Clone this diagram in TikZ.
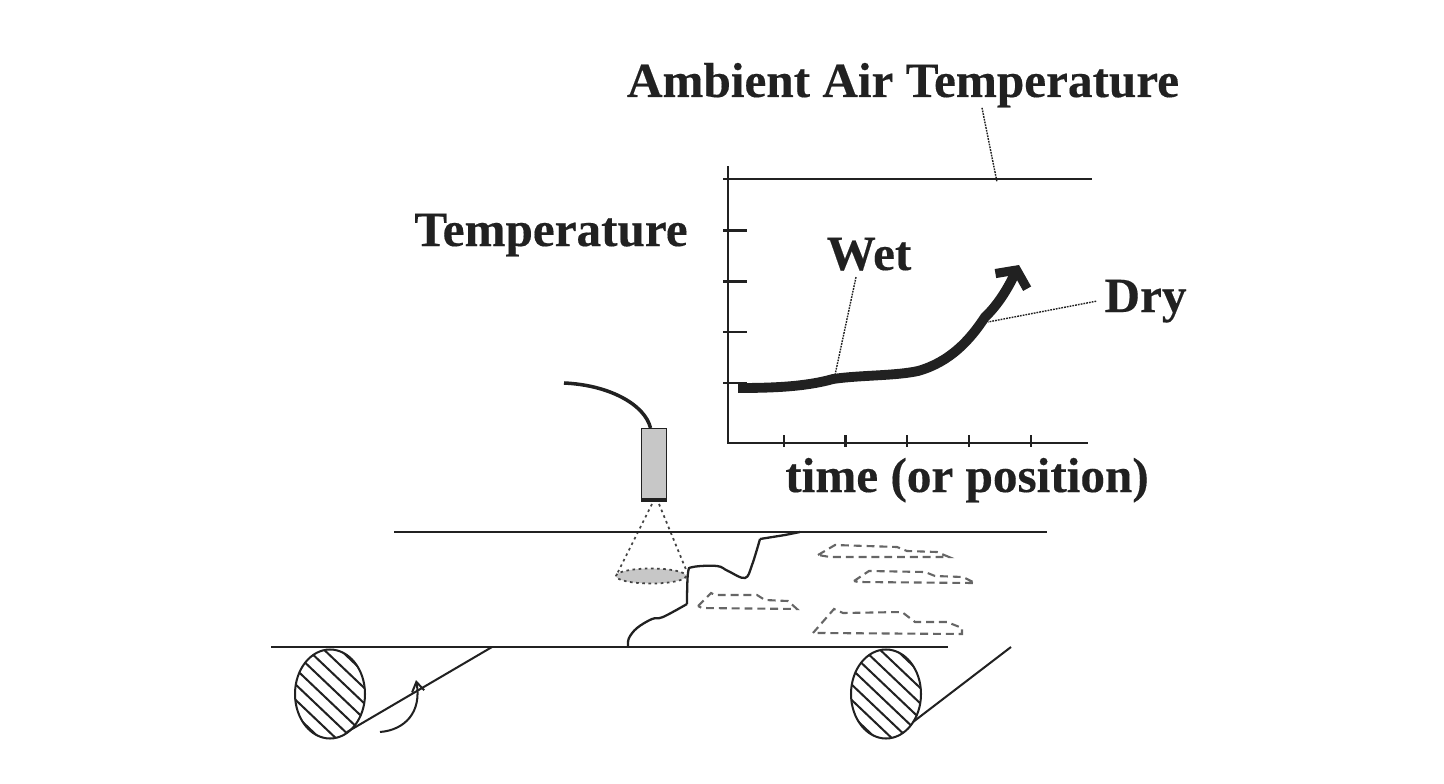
\documentclass[tikz,border=0pt]{standalone}
\usepackage{fontspec}
\setmainfont[BoldFeatures={FakeBold=0.3}]{Liberation Serif}
\usetikzlibrary{arrows.meta}
\definecolor{ink}{gray}{0.13}
\tikzset{
    label text/.style={font=\fontsize{28}{32}\selectfont\bfseries,text=ink,inner sep=0pt,anchor=base},
    leader/.style={ink,line width=0.8pt,dash pattern=on 1pt off 0.6pt},
    belt/.style={ink,line width=1.15pt},
    patch/.style={black!60,line width=1.2pt,dash pattern=on 4.5pt off 2.8pt},
    beam/.style={ink!85,line width=1pt,dash pattern=on 1.5pt off 2pt},
}
\begin{document}
\begin{tikzpicture}[x=0.02cm,y=-0.02cm]
    \useasboundingbox (0,0) rectangle (1444,784);
    % axes
    \draw[belt] (728,166) -- (728,443) -- (1088,443);
    \foreach \y in {230.5,281.5,332,383} {
        \draw[belt] (723,\y) -- (747,\y);
    }
    \foreach \x in {784,845.5,907,969,1031} {
        \draw[belt] (\x,435) -- (\x,447);
    }
    \draw[belt] (723,179) -- (1092,179);
    % temperature curve
    \draw[ink,line width=5.6pt,-{Straight Barb[length=7pt,width=20pt,line width=5.2pt]}]
        (738,388) .. controls (770,388) and (805,387) .. (833,379)
        .. controls (860,375) and (895,376) .. (918,371)
        .. controls (950,362) and (970,340) .. (985,317)
        .. controls (998,305) and (1008,288) .. (1019,265);
    % labels
    \node[label text] (ambient) at (903,97) {Ambient Air Temperature};
    \node[label text] (temperature) at (551,246) {Temperature};
    \node[label text] (wet) at (869,270) {Wet};
    \node[label text] (dry) at (1145.5,312) {Dry};
    \node[label text] (timelabel) at (967,492) {time (or position)};
    \coordinate (ambient end) at (997,182);
    \coordinate (wet end) at (835,375);
    \coordinate (dry end) at (988,322);
    \draw[leader] ([xshift=1.58cm]ambient.south) -- (ambient end);
    \draw[leader] ([xshift=-.26cm,yshift=-.12cm]wet.south) -- (wet end);
    \draw[leader] ([xshift=-.16cm]dry.west) -- (dry end);
    % sensor
    \node[draw=ink,fill=black!22,line width=1pt,minimum width=0.5cm,minimum height=1.46cm,inner sep=0pt] (sensor) at (654,465) {};
    \fill[ink] (sensor.south west) rectangle ([yshift=.08cm]sensor.south east);
    \coordinate (cable end) at (564,383);
    \draw[ink,line width=2pt] (cable end) .. controls (610,385) and (645,405) .. (650.5,428);
    \draw[beam] (652,504) -- (616,576);
    \draw[beam] (659,504) -- (687,572);
    \draw[beam,fill=black!22] (651,576) ellipse[x radius=35,y radius=7.5];
    % web
    \draw[belt] (394,532) -- (1047,532);
    \draw[belt] (271,647) -- (948,647);
    \draw[ink,line width=1.3pt]
        plot[smooth,tension=.6] coordinates {(628,646) (629,638) (637,628) (652,619) (663,617) (687,604)};
    \draw[ink,line width=1.3pt]
        plot[smooth,tension=.6] coordinates {(687,604) (688,573) (693,567) (717,566) (728,571) (745,578) (752,565) (760,539)};
    \draw[ink,line width=1.3pt] (760,539) -- (785,535) -- (800,532);
    % wet patches
    \draw[patch] (818,555) -- (835,545) -- (897,547) -- (907,551) -- (937,552) -- (949,557) -- (830,557) -- cycle;
    \draw[patch] (854,581) -- (869,571) -- (925,572) -- (935,576) -- (963,577) -- (975,583) -- (858,582) -- cycle;
    \draw[patch] (698,606) -- (711,593) -- (715,595) -- (757,595) -- (765,600) -- (788,601) -- (797,609) -- (702,608) -- cycle;
    \draw[patch] (813,633) -- (834,609) -- (843,613) -- (902,612) -- (915,622) -- (947,622) -- (962,628) -- (962,634) -- (820,633) -- cycle;
    % rollers
    \foreach \cx in {330,886} {
        \begin{scope}
            \clip (\cx,694) ellipse[x radius=35,y radius=44.5];
            \foreach \o in {-54,-38.6,-23.2,-7.7,7.7,23.2,38.6,54} {
                \draw[belt] (\cx-60,694+\o-57) -- (\cx+60,694+\o+57);
            }
        \end{scope}
        \draw[belt] (\cx,694) ellipse[x radius=35,y radius=44.5];
    }
    \draw[belt] (347,732) -- (492,647);
    \draw[belt] (913,722) -- (1011,647);
    \draw[belt,-{Straight Barb[length=5.5pt,width=7pt]}] (380,732) .. controls (405,730) and (422,712) .. (416,680);
\end{tikzpicture}
\end{document}
